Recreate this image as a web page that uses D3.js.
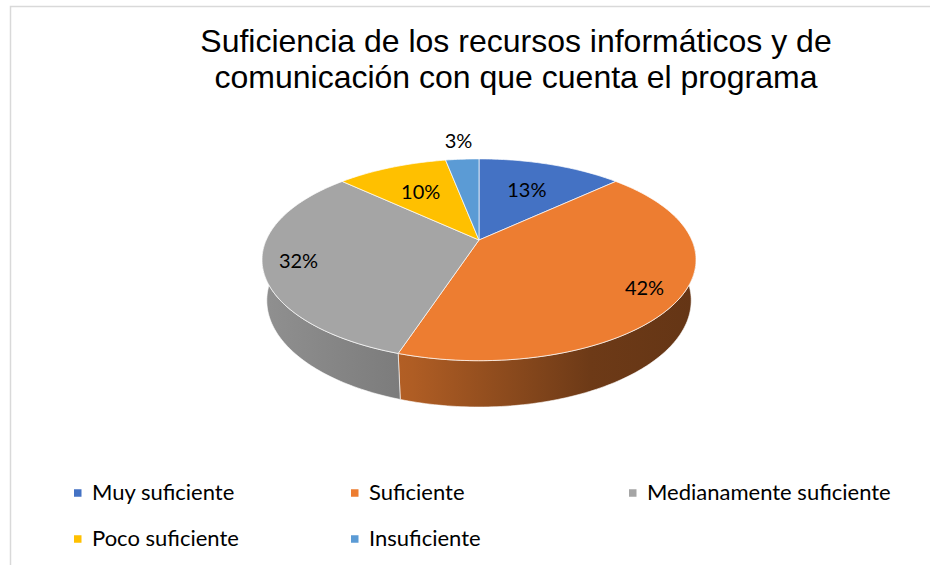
<!DOCTYPE html>
<html>
<head>
<meta charset="utf-8">
<script src="https://cdn.jsdelivr.net/npm/d3@7"></script>
<style>
  body { margin: 0; background: #fff; }
  svg { display: block; }
</style>
</head>
<body>
<div class="vis-pie"></div>
<script>
// data
const categories = ["Muy suficiente", "Suficiente", "Medianamente suficiente", "Poco suficiente", "Insuficiente"];
const values = [13, 42, 32, 10, 3];
const labels = ["13%", "42%", "32%", "10%", "3%"];
const colors = ["#4472C4", "#ED7D31", "#A5A5A5", "#FFC000", "#5B9BD5"];
const titleLines = ["Suficiencia de los recursos informáticos y de", "comunicación con que cuenta el programa"];

const width = 930, height = 565;
const svg = d3.select(".vis-pie").append("svg")
  .attr("width", width)
  .attr("height", height);

// chart area frame (cropped on right / bottom)
svg.append("path")
  .attr("d", "M10.5," + height + "V6.5H" + width)
  .attr("fill", "none")
  .attr("stroke", "#d9d9d9")
  .attr("stroke-width", 1.5);

// title
svg.append("g").selectAll("text")
  .data(titleLines)
  .join("text")
  .attr("x", 516)
  .attr("y", (d, i) => 52 + i * 36)
  .attr("text-anchor", "middle")
  .attr("font-family", "Liberation Sans, Arial, sans-serif")
  .attr("font-size", 32)
  .attr("fill", "#000")
  .text(d => d);

// 3d pie: perspective projection of a disc
const cx = 479, cy = 240;
const f = 966, D = 4.54;
const cosP = 0.89, sinP = 0.456;
const H = 0.216; // thickness

function proj(a, r, h) {
  const u = r * Math.sin(a), v = -r * Math.cos(a);
  const depth = D - h * sinP - v * cosP;
  return [cx + f * u / depth, cy - f * (h * cosP - v * sinP) / depth];
}

function rim(a0, a1, h) {
  const n = Math.max(2, Math.ceil((a1 - a0) / (Math.PI / 180)));
  return d3.range(n + 1).map(i => proj(a0 + (a1 - a0) * i / n, 1, h));
}

const arcs = d3.pie().sort(null).value(d => d)(values);
const line = d3.line();

// side shading gradients
const defs = svg.append("defs");
const left = proj(-Math.PI / 2, 1, 0)[0], right = proj(Math.PI / 2, 1, 0)[0];
colors.forEach((c, i) => {
  const g = defs.append("linearGradient")
    .attr("id", "side" + i)
    .attr("gradientUnits", "userSpaceOnUse")
    .attr("x1", left - 10).attr("x2", right + 10)
    .attr("y1", 0).attr("y2", 0);
  const base = d3.rgb(c);
  [[0, 0.88], [0.35, 0.74], [0.75, 0.46], [1, 0.42]].forEach(([o, k]) => {
    g.append("stop")
      .attr("offset", o)
      .attr("stop-color", d3.rgb(base.r * k, base.g * k, base.b * k));
  });
});

// sides (front half only)
const sides = svg.append("g");
arcs.forEach((d, i) => {
  const a0 = Math.max(d.startAngle, Math.PI / 2);
  const a1 = Math.min(d.endAngle, 3 * Math.PI / 2);
  if (a1 <= a0) return;
  const pts = rim(a0, a1, 0).concat(rim(a0, a1, -H).reverse());
  sides.append("path")
    .attr("d", line(pts) + "Z")
    .attr("fill", "url(#side" + i + ")")
    .attr("stroke", "#fff")
    .attr("stroke-opacity", 0.6)
    .attr("stroke-width", 1);
});

// top faces
const tops = svg.append("g");
arcs.forEach((d, i) => {
  const pts = [proj(0, 0, 0)].concat(rim(d.startAngle, d.endAngle, 0));
  tops.append("path")
    .attr("d", line(pts) + "Z")
    .attr("fill", colors[i])
    .attr("stroke", "#fff")
    .attr("stroke-opacity", 0.7)
    .attr("stroke-width", 1)
    .attr("stroke-linejoin", "round");
});

// data labels: small slices outside, back half pulled in (foreshortened)
svg.append("g").selectAll("text")
  .data(arcs)
  .join("text")
  .attr("transform", d => {
    const mid = (d.startAngle + d.endAngle) / 2;
    let r = Math.cos(mid) > 0 ? 0.63 : 0.84;
    if (d.value < 5) r = 1.28;
    const p = proj(mid, r, 0);
    return "translate(" + p[0] + "," + p[1] + ")";
  })
  .attr("text-anchor", "middle")
  .attr("dy", "0.35em")
  .attr("font-family", "Lato, Open Sans, sans-serif")
  .attr("font-size", 20)
  .attr("fill", "#000")
  .text((d, i) => labels[i]);

// legend
const legendX = [74, 351, 629];
const legend = svg.append("g").selectAll("g")
  .data(categories)
  .join("g")
  .attr("transform", (d, i) => "translate(" + legendX[i % 3] + "," + (493 + Math.floor(i / 3) * 46) + ")");
legend.append("rect")
  .attr("x", 0).attr("y", -3.75)
  .attr("width", 7.5).attr("height", 7.5)
  .attr("fill", (d, i) => colors[i]);
legend.append("text")
  .attr("x", 18)
  .attr("dy", "0.33em")
  .attr("font-family", "Lato, Open Sans, sans-serif")
  .attr("font-size", 22)
  .attr("fill", "#000")
  .text(d => d);
</script>
</body>
</html>
